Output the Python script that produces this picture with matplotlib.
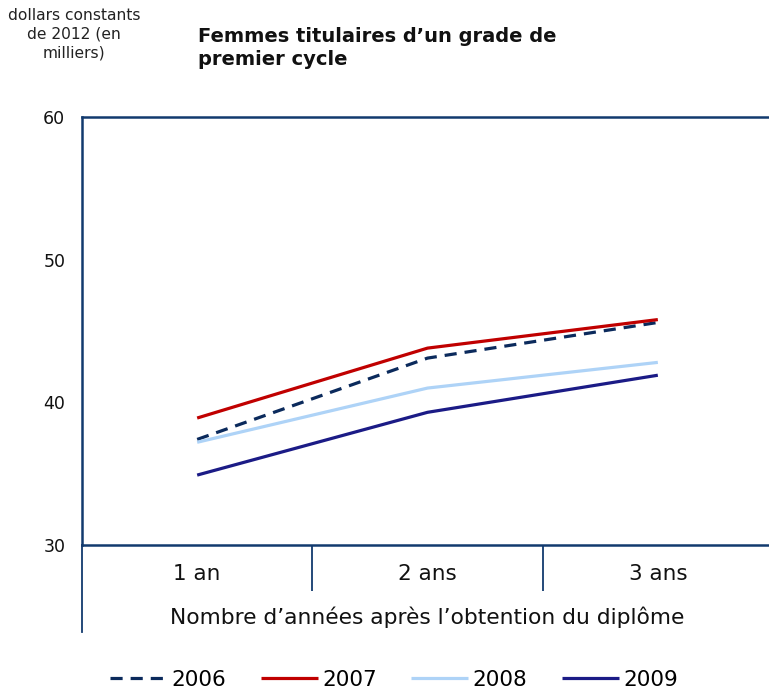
import matplotlib.pyplot as plt
from matplotlib.lines import Line2D

categories = ['1 an', '2 ans', '3 ans']
years = ['2006', '2007', '2008', '2009']
v2006 = [37.4, 43.1, 45.6]
v2007 = [38.9, 43.8, 45.8]
v2008 = [37.2, 41.0, 42.8]
v2009 = [34.9, 39.3, 41.9]

navy = '#123a6e'
styles = {
    '2006': dict(color='#0b2a5c', dashes=(3.8, 2.5)),
    '2007': dict(color='#c00000'),
    '2008': dict(color='#aed3f7'),
    '2009': dict(color='#1b1b86'),
}

plt.rcParams['font.family'] = 'DejaVu Sans'
fig = plt.figure(figsize=(7.69, 6.91), dpi=100)
ax = fig.add_axes([82 / 769, 1 - 545 / 691, (773 - 82) / 769, (545 - 117) / 691])

x = [1, 2, 3]
for yr, vals in zip(years, [v2006, v2007, v2008, v2009]):
    ax.plot(x, vals, lw=2.3, label=yr, solid_capstyle='butt', **styles[yr])

ax.set_xlim(0.5, 3.5)
ax.set_ylim(30, 60)
ax.set_yticks([30, 40, 50, 60])
ax.set_xticks(x)
ax.set_xticklabels(categories)
ax.set_xticks([1.5, 2.5], minor=True)
ax.tick_params(axis='x', which='major', length=0, pad=14, labelsize=15.5, labelcolor='#111111')
ax.tick_params(axis='x', which='minor', length=33, width=1.3, color=navy, direction='out')
ax.tick_params(axis='y', length=0, pad=12, labelsize=12.5, labelcolor='#111111')
ax.set_xlabel("Nombre d\u2019années après l\u2019obtention du diplôme", fontsize=15.7, labelpad=8,
              color='#111111')

for side in ['left', 'top', 'bottom']:
    ax.spines[side].set_color(navy)
    ax.spines[side].set_linewidth(1.8)
ax.spines['right'].set_visible(False)
ax.add_line(Line2D([0, 0], [0, -(632 - 545) / 428], transform=ax.transAxes,
                   color=navy, lw=1.3, clip_on=False))

fig.text(74 / 769, 1 - 8 / 691, 'dollars constants\nde 2012 (en\nmilliers)', ha='center', va='top',
         fontsize=11.2, color='#222222', linespacing=1.3)
fig.text(198 / 769, 1 - 27 / 691, 'Femmes titulaires d\u2019un grade de\npremier cycle', ha='left', va='top',
         fontsize=14, fontweight='bold', color='#111111', linespacing=1.25)

fig.legend(loc='center', bbox_to_anchor=(394 / 769, 1 - 680 / 691), ncol=4, frameon=False,
           fontsize=15.5, handlelength=2.65, handletextpad=0.2, columnspacing=1.6)

fig.savefig('out.png', dpi=100)
